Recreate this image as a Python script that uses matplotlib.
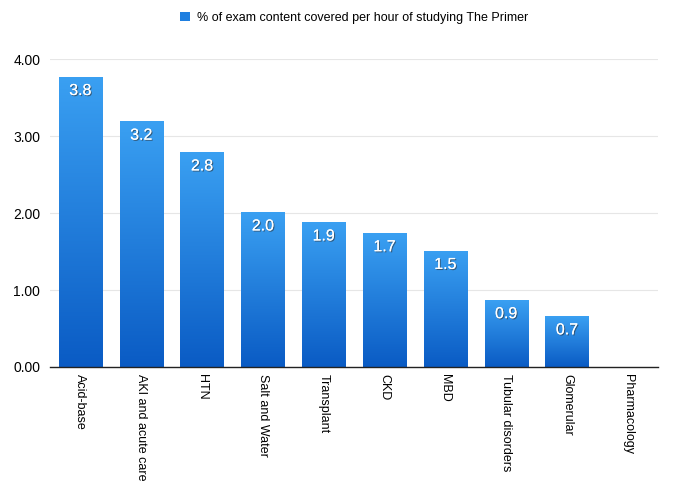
import numpy as np
import matplotlib
matplotlib.use('Agg')
import matplotlib.pyplot as plt
import matplotlib.patheffects as pe
from matplotlib.colors import LinearSegmentedColormap

categories = ['Acid-base', 'AKI and acute care', 'HTN', 'Salt and Water', 'Transplant',
              'CKD', 'MBD', 'Tubular disorders', 'Glomerular', 'Pharmacology']
values = [3.77, 3.19, 2.79, 2.01, 1.88, 1.74, 1.51, 0.87, 0.66, 0.0]
series_name = '% of exam content covered per hour of studying The Primer'

plt.rcParams['font.family'] = ['Liberation Sans', 'DejaVu Sans']

fig = plt.figure(figsize=(6.8, 4.93), dpi=100)
ax = fig.add_axes([0.0735, 0.2556, 0.8945, 0.6244])

x = np.arange(len(categories))
bars = ax.bar(x, values, width=0.71, color='#1f7fe0', label=series_name, zorder=2)

# vertical gradient inside each bar: light at top, dark at bottom
cmap = LinearSegmentedColormap.from_list('blu', ['#0a5bc4', '#3aa0f2'])
grad = np.linspace(0, 1, 256).reshape(-1, 1)
for b in bars:
    h = b.get_height()
    if h <= 0:
        continue
    x0 = b.get_x()
    im = ax.imshow(grad, cmap=cmap, aspect='auto', origin='lower',
                   extent=[x0, x0 + b.get_width(), 0, h], zorder=3)
    im.set_clip_path(b)

for xi, v in zip(x, values):
    if v <= 0:
        continue
    ax.text(xi, v - 0.08, f'{v:.1f}', ha='center', va='top', color='white', fontsize=11.5,
            zorder=4, path_effects=[pe.withSimplePatchShadow(offset=(0.8, -0.8), shadow_rgbFace='#333333', alpha=0.6), pe.Normal()])

ax.set_xlim(-0.5, len(categories) - 0.5)
ax.set_ylim(0, 4.0)
ax.set_yticks([0, 1, 2, 3, 4])
ax.set_yticklabels(['0.00', '1.00', '2.00', '3.00', '4.00'], fontsize=10)
ax.set_xticks(x)
ax.set_xticklabels(categories, rotation=-90, fontsize=9, va='top', ha='center')
ax.tick_params(length=0)
ax.tick_params(axis='x', pad=5)
ax.tick_params(axis='y', pad=7)
ax.grid(axis='y', color='#e6e6e6', linewidth=0.8, zorder=0)
for s in ['top', 'right', 'left']:
    ax.spines[s].set_visible(False)
ax.spines['bottom'].set_color('#222222')
ax.spines['bottom'].set_linewidth(1.0)
ax.spines['bottom'].set_zorder(5)

ax.legend(loc='center', bbox_to_anchor=(0.5, 1.135), frameon=False, fontsize=9,
          handlelength=0.8, handleheight=0.8, handletextpad=0.6)

fig.savefig('out.png', dpi=100)
